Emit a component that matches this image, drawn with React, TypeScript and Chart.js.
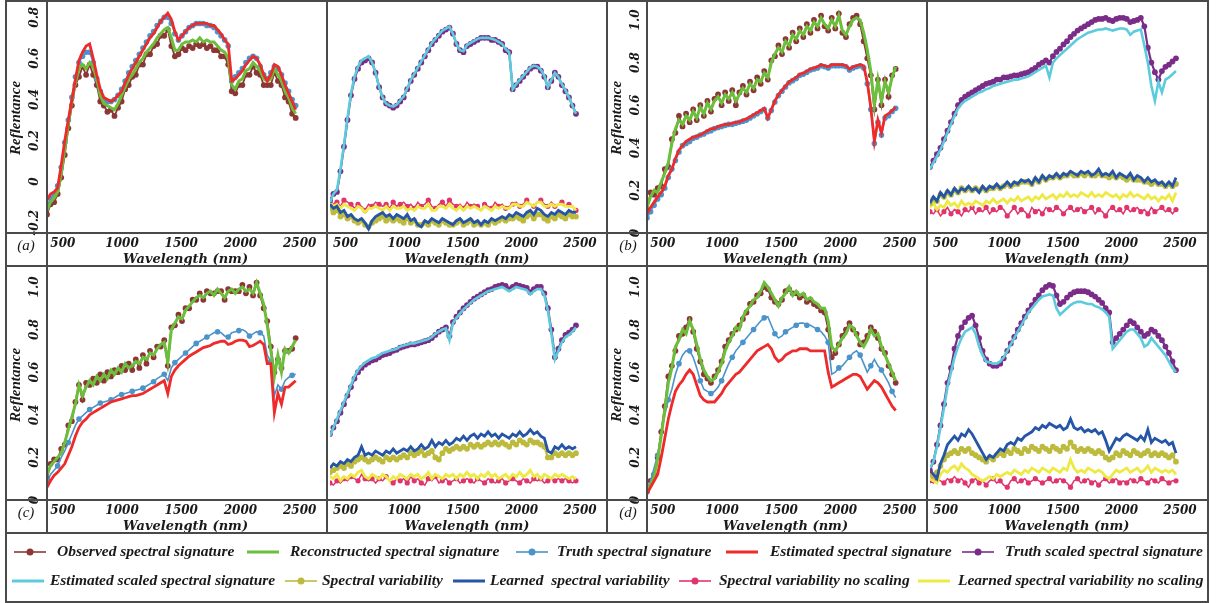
import React, { useEffect, useRef } from 'react';
import { Chart, registerables } from 'chart.js';

Chart.register(...registerables);

// ---------------- DATA ----------------
const WL = [400, 430, 460, 490, 520, 550, 580, 610, 640, 670, 700, 730, 760, 790, 820, 850, 880, 910, 940, 970,
  1000, 1030, 1060, 1090, 1120, 1150, 1180, 1210, 1240, 1270, 1300, 1330, 1360, 1390, 1420, 1450, 1480, 1510, 1540, 1570,
  1600, 1630, 1660, 1690, 1720, 1750, 1780, 1810, 1840, 1870, 1900, 1930, 1960, 1990, 2020, 2050, 2080, 2110, 2140, 2170,
  2200, 2230, 2260, 2290, 2320, 2350, 2380, 2410, 2440, 2470, 2500];

const X_TICKS = [500, 1000, 1500, 2000, 2500];
const Y_TICKS_A = [-0.2, 0, 0.2, 0.4, 0.6, 0.8];
const Y_LABELS_A = ['-0.2', '0', '0.2', '0.4', '0.6', '0.8'];
const Y_TICKS = [0, 0.2, 0.4, 0.6, 0.8, 1.0];
const Y_LABELS = ['0', '0.2', '0.4', '0.6', '0.8', '1.0'];

// ----- panel (a)
const A_OBSERVED = [-0.16, -0.11, -0.10, -0.06, 0.02, 0.13, 0.26, 0.37, 0.47, 0.51,
  0.56, 0.52, 0.57, 0.52, 0.47, 0.39, 0.37, 0.34, 0.35, 0.32,
  0.36, 0.39, 0.45, 0.47, 0.51, 0.52, 0.57, 0.57, 0.62, 0.62,
  0.66, 0.67, 0.71, 0.71, 0.74, 0.66, 0.61, 0.62, 0.65, 0.64,
  0.66, 0.65, 0.67, 0.66, 0.67, 0.65, 0.66, 0.64, 0.64, 0.61,
  0.61, 0.57, 0.44, 0.43, 0.47, 0.47, 0.52, 0.52, 0.56, 0.53,
  0.52, 0.47, 0.47, 0.47, 0.53, 0.49, 0.47, 0.41, 0.39, 0.33,
  0.31];
const A_RECONSTRUCTED = [-0.14, -0.10, -0.08, -0.05, 0.04, 0.16, 0.28, 0.40, 0.48, 0.55,
  0.57, 0.55, 0.58, 0.56, 0.50, 0.42, 0.38, 0.37, 0.36, 0.35,
  0.38, 0.42, 0.46, 0.50, 0.52, 0.55, 0.58, 0.60, 0.63, 0.65,
  0.67, 0.70, 0.72, 0.74, 0.75, 0.70, 0.64, 0.64, 0.67, 0.68,
  0.68, 0.69, 0.68, 0.70, 0.68, 0.69, 0.68, 0.68, 0.66, 0.64,
  0.63, 0.60, 0.47, 0.45, 0.49, 0.50, 0.54, 0.55, 0.58, 0.56,
  0.54, 0.50, 0.49, 0.50, 0.55, 0.52, 0.49, 0.44, 0.41, 0.36,
  0.33];
const A_TRUTH = [-0.12, -0.08, -0.06, -0.02, 0.07, 0.19, 0.30, 0.41, 0.51, 0.58,
  0.61, 0.63, 0.63, 0.58, 0.50, 0.44, 0.40, 0.39, 0.39, 0.40,
  0.42, 0.45, 0.49, 0.53, 0.56, 0.59, 0.62, 0.65, 0.68, 0.71,
  0.73, 0.76, 0.78, 0.80, 0.80, 0.77, 0.72, 0.69, 0.71, 0.73,
  0.75, 0.76, 0.77, 0.77, 0.77, 0.76, 0.76, 0.75, 0.73, 0.71,
  0.69, 0.66, 0.49, 0.51, 0.53, 0.55, 0.58, 0.60, 0.61, 0.60,
  0.56, 0.52, 0.50, 0.53, 0.56, 0.55, 0.52, 0.48, 0.44, 0.40,
  0.37];
const A_ESTIMATED = [-0.09, -0.06, -0.05, -0.03, 0.08, 0.20, 0.30, 0.40, 0.50, 0.59,
  0.63, 0.66, 0.67, 0.60, 0.52, 0.45, 0.41, 0.40, 0.39, 0.40,
  0.42, 0.44, 0.48, 0.52, 0.55, 0.58, 0.61, 0.64, 0.67, 0.70,
  0.72, 0.75, 0.78, 0.80, 0.82, 0.79, 0.73, 0.69, 0.71, 0.73,
  0.75, 0.76, 0.77, 0.77, 0.77, 0.77, 0.76, 0.76, 0.74, 0.72,
  0.69, 0.67, 0.49, 0.50, 0.52, 0.54, 0.57, 0.59, 0.61, 0.60,
  0.57, 0.52, 0.49, 0.52, 0.57, 0.56, 0.52, 0.47, 0.43, 0.39,
  0.35];
const A_TRUTH_SCALED = [-0.09, -0.06, -0.05, 0.05, 0.17, 0.30, 0.42, 0.50, 0.55, 0.58,
  0.59, 0.60, 0.58, 0.53, 0.46, 0.41, 0.38, 0.37, 0.36, 0.37,
  0.39, 0.41, 0.45, 0.49, 0.52, 0.55, 0.58, 0.61, 0.64, 0.67,
  0.69, 0.71, 0.73, 0.74, 0.75, 0.72, 0.67, 0.64, 0.63, 0.66,
  0.67, 0.68, 0.69, 0.70, 0.70, 0.70, 0.69, 0.69, 0.68, 0.67,
  0.64, 0.63, 0.45, 0.47, 0.49, 0.51, 0.53, 0.55, 0.56, 0.56,
  0.54, 0.51, 0.46, 0.49, 0.53, 0.51, 0.47, 0.44, 0.41, 0.37,
  0.33];
const A_EST_SCALED = [-0.10, -0.06, -0.04, 0.06, 0.18, 0.31, 0.43, 0.51, 0.56, 0.59,
  0.60, 0.61, 0.58, 0.53, 0.46, 0.41, 0.38, 0.37, 0.365, 0.375,
  0.395, 0.415, 0.455, 0.495, 0.525, 0.555, 0.585, 0.615, 0.645, 0.675,
  0.695, 0.715, 0.735, 0.745, 0.755, 0.72, 0.67, 0.64, 0.635, 0.665,
  0.675, 0.685, 0.695, 0.70, 0.70, 0.70, 0.695, 0.69, 0.68, 0.67,
  0.645, 0.63, 0.45, 0.475, 0.495, 0.515, 0.535, 0.555, 0.565, 0.56,
  0.545, 0.515, 0.46, 0.495, 0.53, 0.51, 0.475, 0.445, 0.41, 0.37,
  0.33];
const A_VAR = [-0.13, -0.15, -0.14, -0.17, -0.16, -0.18, -0.17, -0.19, -0.20, -0.19,
  -0.21, -0.22, -0.20, -0.19, -0.18, -0.17, -0.19, -0.18, -0.19, -0.18,
  -0.19, -0.20, -0.18, -0.20, -0.19, -0.21, -0.21, -0.20, -0.21, -0.19,
  -0.20, -0.21, -0.19, -0.20, -0.21, -0.21, -0.20, -0.19, -0.21, -0.20,
  -0.19, -0.21, -0.20, -0.21, -0.20, -0.21, -0.19, -0.20, -0.19, -0.18,
  -0.19, -0.18, -0.18, -0.17, -0.18, -0.19, -0.17, -0.16, -0.18, -0.16,
  -0.16, -0.18, -0.19, -0.17, -0.18, -0.16, -0.17, -0.18, -0.16, -0.17,
  -0.17];
const A_LEARNED_VAR = [-0.11, -0.13, -0.12, -0.15, -0.14, -0.17, -0.16, -0.18, -0.19, -0.18,
  -0.20, -0.23, -0.19, -0.17, -0.16, -0.15, -0.17, -0.16, -0.18, -0.16,
  -0.17, -0.18, -0.16, -0.19, -0.18, -0.21, -0.22, -0.19, -0.20, -0.18,
  -0.19, -0.20, -0.18, -0.19, -0.20, -0.21, -0.19, -0.18, -0.20, -0.19,
  -0.18, -0.20, -0.19, -0.21, -0.19, -0.20, -0.18, -0.19, -0.18, -0.17,
  -0.18, -0.16, -0.17, -0.15, -0.16, -0.17, -0.15, -0.14, -0.16, -0.13,
  -0.14, -0.16, -0.17, -0.15, -0.16, -0.14, -0.15, -0.16, -0.14, -0.15,
  -0.15];
const A_VAR_NOSCALE = [-0.09, -0.11, -0.10, -0.12, -0.09, -0.10, -0.11, -0.13, -0.11, -0.12,
  -0.14, -0.11, -0.12, -0.10, -0.11, -0.12, -0.11, -0.13, -0.10, -0.12,
  -0.11, -0.10, -0.12, -0.11, -0.13, -0.10, -0.12, -0.11, -0.09, -0.12,
  -0.13, -0.11, -0.10, -0.12, -0.09, -0.11, -0.12, -0.11, -0.13, -0.10,
  -0.12, -0.11, -0.12, -0.14, -0.11, -0.12, -0.13, -0.10, -0.12, -0.11,
  -0.13, -0.12, -0.11, -0.10, -0.12, -0.11, -0.09, -0.11, -0.12, -0.10,
  -0.09, -0.11, -0.12, -0.10, -0.12, -0.11, -0.10, -0.12, -0.11, -0.12,
  -0.14];
const A_LEARNED_NOSCALE = [-0.10, -0.12, -0.11, -0.13, -0.11, -0.12, -0.13, -0.14, -0.12, -0.13,
  -0.15, -0.13, -0.13, -0.12, -0.13, -0.14, -0.12, -0.14, -0.12, -0.13,
  -0.13, -0.12, -0.14, -0.13, -0.14, -0.12, -0.13, -0.13, -0.11, -0.14,
  -0.14, -0.12, -0.12, -0.13, -0.11, -0.13, -0.14, -0.12, -0.14, -0.12,
  -0.13, -0.12, -0.13, -0.14, -0.12, -0.13, -0.14, -0.12, -0.13, -0.12,
  -0.13, -0.13, -0.11, -0.11, -0.12, -0.12, -0.10, -0.11, -0.12, -0.10,
  -0.10, -0.12, -0.12, -0.11, -0.12, -0.11, -0.11, -0.12, -0.12, -0.12,
  -0.14];

// ----- panel (b)
const B_OBSERVED = [0.11, 0.19, 0.18, 0.21, 0.22, 0.30, 0.31, 0.44, 0.47, 0.55,
  0.50, 0.56, 0.52, 0.58, 0.53, 0.60, 0.55, 0.62, 0.57, 0.63,
  0.65, 0.60, 0.66, 0.62, 0.67, 0.60, 0.66, 0.69, 0.65, 0.71,
  0.67, 0.73, 0.70, 0.76, 0.72, 0.81, 0.83, 0.88, 0.84, 0.91,
  0.87, 0.94, 0.90, 0.96, 0.92, 0.98, 0.94, 1.00, 0.96, 1.02,
  0.97, 0.95, 1.01, 0.96, 1.03, 0.94, 0.92, 0.98, 1.01, 1.02,
  0.98, 0.90, 0.82, 0.74, 0.58, 0.72, 0.60, 0.72, 0.64, 0.74,
  0.77];
const B_RECONSTRUCTED = [0.12, 0.17, 0.20, 0.19, 0.24, 0.28, 0.33, 0.42, 0.49, 0.53,
  0.51, 0.55, 0.53, 0.57, 0.54, 0.59, 0.56, 0.61, 0.58, 0.62,
  0.64, 0.61, 0.65, 0.63, 0.66, 0.62, 0.65, 0.68, 0.66, 0.70,
  0.68, 0.72, 0.71, 0.75, 0.73, 0.80, 0.84, 0.87, 0.85, 0.90,
  0.88, 0.93, 0.91, 0.95, 0.93, 0.97, 0.95, 0.99, 0.97, 1.01,
  0.98, 0.96, 1.00, 0.97, 1.02, 0.95, 0.93, 0.97, 1.00, 1.01,
  1.00, 0.94, 0.86, 0.76, 0.60, 0.72, 0.62, 0.71, 0.66, 0.73,
  0.78];
const B_TRUTH = [0.07, 0.10, 0.13, 0.16, 0.18, 0.21, 0.26, 0.30, 0.34, 0.38,
  0.41, 0.42, 0.43, 0.445, 0.45, 0.46, 0.465, 0.475, 0.48, 0.49,
  0.495, 0.50, 0.505, 0.51, 0.51, 0.515, 0.52, 0.525, 0.53, 0.54,
  0.55, 0.56, 0.57, 0.58, 0.54, 0.575, 0.615, 0.645, 0.665, 0.685,
  0.705, 0.715, 0.725, 0.74, 0.745, 0.755, 0.765, 0.77, 0.775, 0.785,
  0.78, 0.775, 0.785, 0.785, 0.785, 0.785, 0.78, 0.765, 0.775, 0.78,
  0.785, 0.775, 0.70, 0.58, 0.42, 0.52, 0.46, 0.54, 0.55, 0.57,
  0.585];
const B_ESTIMATED = [0.09, 0.12, 0.145, 0.17, 0.19, 0.22, 0.27, 0.30, 0.35, 0.39,
  0.41, 0.43, 0.44, 0.45, 0.455, 0.46, 0.47, 0.48, 0.49, 0.49,
  0.50, 0.505, 0.51, 0.51, 0.515, 0.52, 0.52, 0.53, 0.535, 0.545,
  0.555, 0.565, 0.575, 0.585, 0.54, 0.58, 0.62, 0.65, 0.67, 0.69,
  0.71, 0.72, 0.73, 0.745, 0.75, 0.76, 0.77, 0.775, 0.78, 0.79,
  0.785, 0.78, 0.79, 0.79, 0.79, 0.79, 0.785, 0.77, 0.78, 0.785,
  0.79, 0.785, 0.71, 0.59, 0.43, 0.53, 0.47, 0.55, 0.56, 0.575,
  0.59];
const B_TRUTH_SCALED = [0.31, 0.34, 0.37, 0.40, 0.44, 0.48, 0.52, 0.56, 0.60, 0.625,
  0.64, 0.65, 0.66, 0.67, 0.68, 0.69, 0.70, 0.705, 0.71, 0.72,
  0.72, 0.73, 0.73, 0.735, 0.74, 0.74, 0.745, 0.75, 0.755, 0.765,
  0.775, 0.79, 0.80, 0.81, 0.80, 0.83, 0.85, 0.865, 0.885, 0.90,
  0.92, 0.935, 0.95, 0.96, 0.97, 0.98, 0.99, 1.00, 1.005, 1.005,
  1.01, 1.00, 0.995, 1.005, 1.01, 1.01, 1.005, 0.99, 0.995, 1.00,
  1.01, 0.97, 0.87, 0.80, 0.755, 0.72, 0.76, 0.78, 0.79, 0.805,
  0.82];
const B_EST_SCALED = [0.30, 0.33, 0.36, 0.39, 0.43, 0.47, 0.51, 0.55, 0.585, 0.605,
  0.62, 0.63, 0.64, 0.65, 0.66, 0.665, 0.675, 0.68, 0.69, 0.695,
  0.70, 0.705, 0.71, 0.715, 0.72, 0.72, 0.725, 0.73, 0.735, 0.745,
  0.755, 0.765, 0.775, 0.785, 0.73, 0.80, 0.82, 0.835, 0.85, 0.865,
  0.88, 0.895, 0.91, 0.92, 0.93, 0.94, 0.945, 0.95, 0.955, 0.955,
  0.96, 0.955, 0.95, 0.955, 0.96, 0.96, 0.955, 0.93, 0.945, 0.95,
  0.955, 0.88, 0.80, 0.69, 0.62, 0.71, 0.66, 0.72, 0.73, 0.745,
  0.76];
const B_VAR = [0.14, 0.16, 0.15, 0.18, 0.17, 0.19, 0.18, 0.20, 0.19, 0.21,
  0.20, 0.21, 0.20, 0.21, 0.20, 0.21, 0.20, 0.21, 0.21, 0.22,
  0.21, 0.22, 0.23, 0.22, 0.23, 0.23, 0.24, 0.24, 0.24, 0.23,
  0.25, 0.24, 0.26, 0.25, 0.26, 0.26, 0.27, 0.26, 0.27, 0.27,
  0.28, 0.27, 0.27, 0.28, 0.27, 0.28, 0.27, 0.27, 0.28, 0.27,
  0.27, 0.26, 0.27, 0.26, 0.27, 0.26, 0.25, 0.26, 0.25, 0.25,
  0.25, 0.24, 0.24, 0.23, 0.24, 0.23, 0.23, 0.22, 0.23, 0.22,
  0.23];
const B_LEARNED_VAR = [0.14, 0.17, 0.15, 0.19, 0.17, 0.20, 0.18, 0.21, 0.19, 0.21,
  0.20, 0.22, 0.20, 0.21, 0.19, 0.22, 0.20, 0.22, 0.21, 0.23,
  0.21, 0.22, 0.24, 0.22, 0.24, 0.23, 0.25, 0.24, 0.25, 0.23,
  0.26, 0.24, 0.27, 0.25, 0.27, 0.26, 0.28, 0.26, 0.28, 0.27,
  0.29, 0.28, 0.27, 0.29, 0.28, 0.29, 0.27, 0.28, 0.30, 0.27,
  0.28, 0.27, 0.29, 0.26, 0.28, 0.27, 0.26, 0.28, 0.25, 0.27,
  0.26, 0.24, 0.26, 0.24, 0.25, 0.23, 0.24, 0.22, 0.24, 0.22,
  0.26];
const B_VAR_NOSCALE = [0.10, 0.09, 0.11, 0.08, 0.10, 0.12, 0.09, 0.11, 0.10, 0.08,
  0.11, 0.10, 0.12, 0.09, 0.11, 0.10, 0.12, 0.09, 0.11, 0.10,
  0.12, 0.11, 0.08, 0.10, 0.12, 0.09, 0.11, 0.10, 0.08, 0.12,
  0.10, 0.11, 0.09, 0.12, 0.11, 0.10, 0.12, 0.11, 0.09, 0.11,
  0.12, 0.10, 0.11, 0.12, 0.10, 0.11, 0.12, 0.09, 0.11, 0.10,
  0.08, 0.11, 0.12, 0.10, 0.11, 0.09, 0.12, 0.10, 0.11, 0.12,
  0.10, 0.11, 0.09, 0.12, 0.10, 0.11, 0.12, 0.10, 0.11, 0.09,
  0.11];
const B_LEARNED_NOSCALE = [0.12, 0.14, 0.11, 0.13, 0.12, 0.15, 0.13, 0.14, 0.12, 0.15,
  0.13, 0.14, 0.13, 0.15, 0.14, 0.13, 0.15, 0.14, 0.16, 0.14,
  0.15, 0.16, 0.14, 0.16, 0.15, 0.17, 0.15, 0.16, 0.17, 0.15,
  0.17, 0.16, 0.18, 0.16, 0.17, 0.18, 0.16, 0.18, 0.17, 0.19,
  0.17, 0.18, 0.17, 0.19, 0.18, 0.17, 0.19, 0.17, 0.18, 0.17,
  0.19, 0.18, 0.17, 0.18, 0.16, 0.18, 0.17, 0.19, 0.17, 0.18,
  0.17, 0.16, 0.18, 0.16, 0.17, 0.15, 0.17, 0.16, 0.18, 0.15,
  0.19];

// ----- panel (c)
const C_OBSERVED = [0.10, 0.17, 0.19, 0.19, 0.24, 0.26, 0.35, 0.37, 0.46, 0.54,
  0.47, 0.55, 0.54, 0.57, 0.55, 0.59, 0.56, 0.60, 0.58, 0.61,
  0.60, 0.63, 0.61, 0.64, 0.61, 0.66, 0.62, 0.68, 0.64, 0.70,
  0.67, 0.72, 0.72, 0.75, 0.63, 0.81, 0.82, 0.87, 0.84, 0.90,
  0.90, 0.94, 0.94, 0.97, 0.94, 0.98, 0.97, 0.97, 0.98, 0.98,
  0.94, 0.99, 0.98, 0.98, 0.98, 1.01, 0.97, 1.00, 0.96, 1.02,
  0.96, 0.90, 0.84, 0.72, 0.60, 0.66, 0.62, 0.70, 0.70, 0.71,
  0.76];
const C_RECONSTRUCTED = [0.12, 0.16, 0.18, 0.20, 0.22, 0.27, 0.33, 0.39, 0.45, 0.54,
  0.49, 0.53, 0.56, 0.54, 0.58, 0.56, 0.59, 0.57, 0.61, 0.59,
  0.62, 0.60, 0.64, 0.62, 0.63, 0.65, 0.64, 0.67, 0.66, 0.69,
  0.68, 0.71, 0.73, 0.74, 0.65, 0.80, 0.83, 0.86, 0.85, 0.89,
  0.91, 0.93, 0.95, 0.96, 0.95, 0.97, 0.98, 0.96, 0.99, 0.97,
  0.95, 0.98, 0.99, 0.97, 0.99, 1.00, 0.98, 0.99, 0.97, 1.02,
  0.97, 0.92, 0.82, 0.70, 0.58, 0.68, 0.60, 0.71, 0.69, 0.72,
  0.75];
const C_TRUTH = [0.08, 0.12, 0.14, 0.16, 0.20, 0.23, 0.27, 0.31, 0.35, 0.38,
  0.395, 0.41, 0.425, 0.435, 0.445, 0.455, 0.46, 0.465, 0.47, 0.48,
  0.49, 0.495, 0.50, 0.505, 0.51, 0.515, 0.52, 0.525, 0.535, 0.545,
  0.555, 0.57, 0.58, 0.59, 0.56, 0.62, 0.645, 0.66, 0.675, 0.69,
  0.705, 0.72, 0.735, 0.745, 0.755, 0.765, 0.775, 0.785, 0.79, 0.785,
  0.77, 0.765, 0.785, 0.79, 0.795, 0.80, 0.79, 0.77, 0.78, 0.79,
  0.785, 0.77, 0.68, 0.65, 0.49, 0.54, 0.52, 0.56, 0.575, 0.585,
  0.59];
const C_ESTIMATED = [0.06, 0.09, 0.115, 0.13, 0.15, 0.17, 0.21, 0.25, 0.30, 0.34,
  0.365, 0.38, 0.40, 0.41, 0.42, 0.43, 0.44, 0.45, 0.46, 0.465,
  0.47, 0.475, 0.48, 0.485, 0.49, 0.49, 0.495, 0.50, 0.51, 0.52,
  0.53, 0.54, 0.55, 0.56, 0.50, 0.58, 0.61, 0.63, 0.645, 0.66,
  0.675, 0.685, 0.695, 0.705, 0.715, 0.72, 0.725, 0.735, 0.74, 0.745,
  0.745, 0.73, 0.735, 0.745, 0.75, 0.75, 0.745, 0.72, 0.725, 0.735,
  0.745, 0.73, 0.64, 0.64, 0.41, 0.50, 0.45, 0.53, 0.53, 0.545,
  0.56];
const C_TRUTH_SCALED = [0.31, 0.34, 0.37, 0.41, 0.45, 0.49, 0.53, 0.57, 0.60, 0.62,
  0.635, 0.645, 0.655, 0.66, 0.67, 0.68, 0.685, 0.69, 0.70, 0.705,
  0.715, 0.72, 0.725, 0.73, 0.73, 0.735, 0.74, 0.745, 0.75, 0.76,
  0.775, 0.79, 0.80, 0.81, 0.77, 0.835, 0.86, 0.88, 0.90, 0.915,
  0.93, 0.945, 0.955, 0.965, 0.975, 0.985, 0.99, 1.00, 1.005, 1.01,
  1.005, 0.99, 1.00, 1.01, 1.005, 1.00, 0.995, 0.975, 0.99, 1.00,
  1.00, 0.97, 0.90, 0.80, 0.67, 0.71, 0.75, 0.775, 0.785, 0.80,
  0.82];
const C_EST_SCALED = [0.30, 0.34, 0.38, 0.42, 0.46, 0.50, 0.54, 0.58, 0.61, 0.63,
  0.645, 0.655, 0.665, 0.67, 0.68, 0.69, 0.695, 0.70, 0.705, 0.71,
  0.72, 0.725, 0.73, 0.735, 0.735, 0.74, 0.745, 0.75, 0.755, 0.765,
  0.78, 0.79, 0.80, 0.805, 0.75, 0.83, 0.855, 0.875, 0.895, 0.91,
  0.925, 0.94, 0.95, 0.96, 0.97, 0.98, 0.985, 0.99, 0.995, 1.00,
  0.99, 0.98, 0.99, 1.00, 0.995, 0.99, 0.985, 0.965, 0.98, 0.99,
  0.99, 0.96, 0.89, 0.78, 0.66, 0.70, 0.74, 0.765, 0.775, 0.79,
  0.81];
const C_VAR = [0.13, 0.14, 0.15, 0.16, 0.15, 0.17, 0.16, 0.18, 0.19, 0.20,
  0.19, 0.18, 0.19, 0.20, 0.19, 0.18, 0.20, 0.19, 0.20, 0.19,
  0.20, 0.21, 0.20, 0.22, 0.21, 0.22, 0.23, 0.21, 0.22, 0.23,
  0.20, 0.19, 0.22, 0.24, 0.23, 0.24, 0.25, 0.24, 0.25, 0.24,
  0.26, 0.25, 0.26, 0.25, 0.26, 0.27, 0.26, 0.27, 0.26, 0.27,
  0.26, 0.25, 0.27, 0.26, 0.28, 0.27, 0.26, 0.28, 0.27, 0.27,
  0.26, 0.25, 0.20, 0.20, 0.22, 0.21, 0.22, 0.21, 0.22, 0.21,
  0.22];
const C_LEARNED_VAR = [0.15, 0.17, 0.16, 0.18, 0.17, 0.19, 0.18, 0.20, 0.21, 0.25,
  0.21, 0.22, 0.21, 0.23, 0.22, 0.21, 0.23, 0.22, 0.24, 0.22,
  0.23, 0.24, 0.23, 0.25, 0.23, 0.24, 0.26, 0.24, 0.25, 0.28,
  0.25, 0.27, 0.26, 0.28, 0.26, 0.27, 0.29, 0.28, 0.30, 0.28,
  0.30, 0.31, 0.29, 0.31, 0.30, 0.32, 0.30, 0.31, 0.29, 0.31,
  0.30, 0.29, 0.31, 0.30, 0.32, 0.30, 0.31, 0.33, 0.31, 0.32,
  0.30, 0.29, 0.23, 0.22, 0.25, 0.24, 0.26, 0.24, 0.25, 0.24,
  0.25];
const C_VAR_NOSCALE = [0.08, 0.07, 0.09, 0.08, 0.10, 0.09, 0.11, 0.10, 0.09, 0.12,
  0.10, 0.09, 0.10, 0.08, 0.10, 0.09, 0.11, 0.09, 0.08, 0.10,
  0.09, 0.10, 0.08, 0.11, 0.09, 0.10, 0.08, 0.07, 0.10, 0.09,
  0.11, 0.08, 0.09, 0.10, 0.08, 0.09, 0.10, 0.08, 0.09, 0.10,
  0.09, 0.08, 0.10, 0.09, 0.08, 0.10, 0.09, 0.08, 0.09, 0.10,
  0.08, 0.09, 0.10, 0.09, 0.08, 0.10, 0.09, 0.08, 0.10, 0.09,
  0.10, 0.08, 0.09, 0.10, 0.09, 0.10, 0.09, 0.10, 0.09, 0.08,
  0.09];
const C_LEARNED_NOSCALE = [0.11, 0.10, 0.12, 0.09, 0.11, 0.10, 0.12, 0.11, 0.13, 0.14,
  0.11, 0.10, 0.12, 0.11, 0.10, 0.12, 0.11, 0.09, 0.11, 0.10,
  0.12, 0.11, 0.10, 0.12, 0.11, 0.12, 0.10, 0.11, 0.13, 0.10,
  0.12, 0.11, 0.10, 0.12, 0.11, 0.12, 0.10, 0.12, 0.11, 0.13,
  0.11, 0.12, 0.10, 0.12, 0.11, 0.13, 0.11, 0.12, 0.10, 0.11,
  0.12, 0.10, 0.12, 0.11, 0.13, 0.11, 0.12, 0.14, 0.11, 0.12,
  0.10, 0.12, 0.11, 0.10, 0.12, 0.11, 0.12, 0.11, 0.10, 0.11,
  0.10];

// ----- panel (d)
const D_OBSERVED = [0.04, 0.09, 0.12, 0.20, 0.32, 0.44, 0.58, 0.63, 0.70, 0.77,
  0.78, 0.81, 0.85, 0.79, 0.71, 0.65, 0.59, 0.57, 0.55, 0.58,
  0.61, 0.65, 0.72, 0.75, 0.78, 0.80, 0.82, 0.85, 0.88, 0.92,
  0.93, 0.96, 0.97, 1.00, 0.99, 0.95, 0.93, 0.92, 0.94, 0.98,
  0.99, 0.97, 0.97, 0.95, 0.96, 0.93, 0.94, 0.92, 0.91, 0.89,
  0.88, 0.80, 0.67, 0.69, 0.73, 0.77, 0.80, 0.83, 0.80, 0.78,
  0.73, 0.74, 0.77, 0.81, 0.79, 0.76, 0.71, 0.69, 0.63, 0.59,
  0.55];
const D_RECONSTRUCTED = [0.05, 0.07, 0.11, 0.19, 0.30, 0.42, 0.55, 0.62, 0.72, 0.75,
  0.80, 0.78, 0.84, 0.80, 0.73, 0.66, 0.61, 0.58, 0.56, 0.57,
  0.60, 0.64, 0.70, 0.74, 0.77, 0.81, 0.80, 0.86, 0.89, 0.91,
  0.94, 0.95, 0.98, 1.02, 1.00, 0.97, 0.94, 0.91, 0.95, 0.97,
  1.00, 0.96, 0.98, 0.96, 0.97, 0.94, 0.95, 0.93, 0.92, 0.90,
  0.90, 0.84, 0.72, 0.70, 0.73, 0.76, 0.78, 0.82, 0.81, 0.77,
  0.74, 0.72, 0.75, 0.80, 0.77, 0.78, 0.72, 0.68, 0.64, 0.60,
  0.56];
const D_TRUTH = [0.04, 0.09, 0.15, 0.21, 0.31, 0.40, 0.47, 0.52, 0.59, 0.64,
  0.68, 0.70, 0.70, 0.67, 0.62, 0.56, 0.52, 0.51, 0.50, 0.51,
  0.53, 0.56, 0.60, 0.64, 0.67, 0.70, 0.72, 0.74, 0.76, 0.78,
  0.80, 0.82, 0.84, 0.855, 0.86, 0.82, 0.78, 0.76, 0.77, 0.79,
  0.80, 0.81, 0.82, 0.83, 0.83, 0.82, 0.82, 0.81, 0.80, 0.79,
  0.77, 0.74, 0.59, 0.60, 0.62, 0.63, 0.65, 0.67, 0.69, 0.70,
  0.68, 0.64, 0.60, 0.63, 0.66, 0.63, 0.61, 0.58, 0.55, 0.51,
  0.48];
const D_ESTIMATED = [0.03, 0.06, 0.09, 0.12, 0.20, 0.29, 0.38, 0.45, 0.51, 0.54,
  0.56, 0.59, 0.61, 0.59, 0.54, 0.49, 0.47, 0.46, 0.46, 0.46,
  0.48, 0.50, 0.53, 0.55, 0.57, 0.59, 0.60, 0.62, 0.64, 0.66,
  0.68, 0.70, 0.71, 0.72, 0.73, 0.71, 0.67, 0.65, 0.66, 0.68,
  0.69, 0.70, 0.70, 0.71, 0.71, 0.71, 0.70, 0.70, 0.70, 0.70,
  0.70, 0.60, 0.53, 0.54, 0.55, 0.56, 0.57, 0.58, 0.59, 0.59,
  0.58, 0.55, 0.52, 0.54, 0.56, 0.55, 0.53, 0.50, 0.47, 0.44,
  0.42];
const D_TRUTH_SCALED = [0.14, 0.18, 0.26, 0.35, 0.45, 0.55, 0.62, 0.71, 0.77, 0.81,
  0.835, 0.855, 0.865, 0.82, 0.76, 0.70, 0.66, 0.64, 0.63, 0.63,
  0.64, 0.665, 0.70, 0.735, 0.765, 0.80, 0.83, 0.86, 0.89, 0.915,
  0.94, 0.96, 0.985, 1.00, 1.01, 1.005, 0.96, 0.92, 0.93, 0.95,
  0.965, 0.975, 0.98, 0.98, 0.98, 0.975, 0.965, 0.955, 0.94, 0.925,
  0.90, 0.88, 0.74, 0.76, 0.78, 0.80, 0.82, 0.84, 0.83, 0.81,
  0.79, 0.77, 0.78, 0.80, 0.79, 0.77, 0.75, 0.72, 0.69, 0.65,
  0.61];
const D_EST_SCALED = [0.15, 0.18, 0.25, 0.34, 0.43, 0.53, 0.60, 0.67, 0.72, 0.76,
  0.79, 0.80, 0.81, 0.78, 0.72, 0.68, 0.65, 0.645, 0.64, 0.64,
  0.65, 0.67, 0.70, 0.73, 0.76, 0.79, 0.82, 0.85, 0.88, 0.90,
  0.92, 0.94, 0.955, 0.96, 0.965, 0.96, 0.90, 0.87, 0.885, 0.90,
  0.915, 0.925, 0.93, 0.93, 0.925, 0.92, 0.92, 0.91, 0.905, 0.895,
  0.88, 0.86, 0.71, 0.73, 0.75, 0.77, 0.79, 0.80, 0.80, 0.78,
  0.76, 0.72, 0.73, 0.76, 0.74, 0.72, 0.70, 0.68, 0.65, 0.62,
  0.60];
const D_VAR = [0.12, 0.11, 0.13, 0.16, 0.19, 0.21, 0.22, 0.23, 0.22, 0.24,
  0.23, 0.24, 0.22, 0.21, 0.20, 0.19, 0.18, 0.20, 0.19, 0.21,
  0.22, 0.21, 0.23, 0.22, 0.24, 0.23, 0.22, 0.24, 0.23, 0.25,
  0.24, 0.23, 0.25, 0.24, 0.23, 0.25, 0.24, 0.23, 0.25, 0.24,
  0.27, 0.25, 0.23, 0.24, 0.23, 0.24, 0.23, 0.22, 0.23, 0.22,
  0.20, 0.19, 0.20, 0.22, 0.21, 0.23, 0.22, 0.21, 0.23, 0.22,
  0.21, 0.22, 0.23, 0.21, 0.22, 0.21, 0.22, 0.21, 0.20, 0.21,
  0.18];
const D_LEARNED_VAR = [0.14, 0.12, 0.10, 0.17, 0.21, 0.26, 0.28, 0.30, 0.28, 0.31,
  0.30, 0.33, 0.31, 0.28, 0.25, 0.22, 0.19, 0.21, 0.20, 0.22,
  0.24, 0.23, 0.26, 0.27, 0.26, 0.29, 0.28, 0.30, 0.31, 0.32,
  0.34, 0.33, 0.35, 0.34, 0.36, 0.35, 0.34, 0.35, 0.33, 0.34,
  0.38, 0.34, 0.33, 0.34, 0.32, 0.33, 0.32, 0.33, 0.31, 0.32,
  0.28, 0.23, 0.26, 0.29, 0.28, 0.30, 0.31, 0.30, 0.29, 0.28,
  0.30, 0.28, 0.33, 0.27, 0.29, 0.28, 0.27, 0.28, 0.26, 0.27,
  0.22];
const D_VAR_NOSCALE = [0.09, 0.08, 0.10, 0.09, 0.08, 0.10, 0.09, 0.11, 0.09, 0.10,
  0.08, 0.06, 0.09, 0.10, 0.08, 0.09, 0.07, 0.09, 0.10, 0.08,
  0.09, 0.07, 0.06, 0.09, 0.10, 0.08, 0.09, 0.10, 0.08, 0.09,
  0.10, 0.09, 0.08, 0.09, 0.10, 0.08, 0.09, 0.10, 0.09, 0.08,
  0.06, 0.09, 0.10, 0.08, 0.09, 0.10, 0.08, 0.09, 0.07, 0.09,
  0.10, 0.08, 0.09, 0.10, 0.08, 0.09, 0.08, 0.10, 0.09, 0.08,
  0.10, 0.09, 0.08, 0.10, 0.09, 0.08, 0.10, 0.09, 0.08, 0.09,
  0.09];
const D_LEARNED_NOSCALE = [0.10, 0.09, 0.08, 0.12, 0.14, 0.13, 0.15, 0.16, 0.14, 0.17,
  0.15, 0.14, 0.12, 0.11, 0.10, 0.09, 0.10, 0.11, 0.10, 0.12,
  0.11, 0.12, 0.13, 0.12, 0.14, 0.13, 0.12, 0.14, 0.13, 0.15,
  0.14, 0.13, 0.15, 0.14, 0.13, 0.15, 0.14, 0.13, 0.15, 0.14,
  0.19, 0.15, 0.13, 0.14, 0.13, 0.15, 0.14, 0.13, 0.14, 0.13,
  0.11, 0.10, 0.12, 0.14, 0.13, 0.14, 0.15, 0.13, 0.14, 0.15,
  0.13, 0.14, 0.16, 0.13, 0.15, 0.14, 0.13, 0.14, 0.13, 0.14,
  0.12];

// ---------------- STYLES ----------------
const INK = '#1a1a1a';
const LINE_COLOR = '#4a4a4a';
const TICK_FONT = { family: '"DejaVu Serif", serif', size: 12, style: 'italic', weight: 'bold' } as any;
const XTITLE_FONT = { family: '"DejaVu Serif", serif', size: 13, style: 'italic', weight: 'bold', lineHeight: 1 } as any;
const YTITLE_FONT = { family: '"Liberation Serif", serif', size: 15, style: 'italic', weight: 'bold', lineHeight: 1 } as any;

type Style = { label: string; color: string; width: number; radius: number; every: number; order: number; marker: boolean };
const STYLE: Record<string, Style> = {
  observed: { label: 'Observed spectral signature', color: '#8d3636', width: 1.8, radius: 2.9, every: 1, order: 4, marker: true },
  reconstructed: { label: 'Reconstructed spectral signature', color: '#6cbf3b', width: 3, radius: 0, every: 1, order: 2, marker: false },
  truth: { label: 'Truth spectral signature', color: '#4b93cb', width: 1.6, radius: 2.8, every: 1, order: 3, marker: true },
  estimated: { label: 'Estimated spectral signature', color: '#ee2a2a', width: 2.8, radius: 0, every: 1, order: 1, marker: false },
  truthScaled: { label: 'Truth scaled spectral signature', color: '#7a2c88', width: 2.2, radius: 2.9, every: 1, order: 2, marker: true },
  estScaled: { label: 'Estimated scaled spectral signature', color: '#5ccbdc', width: 2.6, radius: 0, every: 1, order: 1, marker: false },
  variability: { label: 'Spectral variability', color: '#bdbb3d', width: 2.2, radius: 2.9, every: 1, order: 4, marker: true },
  learnedVar: { label: 'Learned  spectral variability', color: '#2455a6', width: 2.8, radius: 0, every: 1, order: 3, marker: false },
  varNoScale: { label: 'Spectral variability no scaling', color: '#e0356c', width: 1.5, radius: 2.6, every: 2, order: 6, marker: true },
  learnedNoScale: { label: 'Learned spectral variability no scaling', color: '#eeea45', width: 2.8, radius: 0, every: 1, order: 5, marker: false },
};

function makeDataset(key: string, values: number[], every?: number) {
  const s = STYLE[key];
  const ev = every ?? s.every;
  return {
    label: s.label,
    data: WL.map((x, i) => ({ x, y: values[i] })),
    borderColor: s.color,
    backgroundColor: s.color,
    borderWidth: s.width,
    pointRadius: s.radius ? (c: any) => (c.dataIndex % ev === 0 ? s.radius : 0) : 0,
    pointBorderWidth: 0,
    pointBackgroundColor: s.color,
    pointHoverRadius: 0,
    order: s.order,
    tension: 0,
    fill: false,
  };
}

type PanelCfg = {
  left: number; top: number; axis: number; yMin: number; yMax: number;
  yTicks: number[]; yLabels: string[]; tickPad: number; titlePad: number;
  sets: [string, number[], number?][];
};

const PLOT_W = 280;
const PLOT_H = 233;
const BAND_H = 33;

const PANELS: PanelCfg[] = [
  { left: 5, top: 0, axis: 42, yMin: -0.25, yMax: 0.87, yTicks: Y_TICKS_A, yLabels: Y_LABELS_A, tickPad: -1, titlePad: 3.5,
    sets: [['observed', A_OBSERVED], ['reconstructed', A_RECONSTRUCTED], ['truth', A_TRUTH], ['estimated', A_ESTIMATED]] },
  { left: 327, top: 0, axis: 0, yMin: -0.25, yMax: 0.87, yTicks: Y_TICKS_A, yLabels: Y_LABELS_A, tickPad: 0, titlePad: 0,
    sets: [['truthScaled', A_TRUTH_SCALED], ['estScaled', A_EST_SCALED], ['variability', A_VAR], ['learnedVar', A_LEARNED_VAR], ['varNoScale', A_VAR_NOSCALE], ['learnedNoScale', A_LEARNED_NOSCALE]] },
  { left: 607, top: 0, axis: 40, yMin: 0, yMax: 1.08, yTicks: Y_TICKS, yLabels: Y_LABELS, tickPad: 0.5, titlePad: 3,
    sets: [['observed', B_OBSERVED], ['reconstructed', B_RECONSTRUCTED], ['truth', B_TRUTH], ['estimated', B_ESTIMATED]] },
  { left: 927, top: 0, axis: 0, yMin: 0, yMax: 1.08, yTicks: Y_TICKS, yLabels: Y_LABELS, tickPad: 0, titlePad: 0,
    sets: [['truthScaled', B_TRUTH_SCALED], ['estScaled', B_EST_SCALED], ['variability', B_VAR], ['learnedVar', B_LEARNED_VAR], ['varNoScale', B_VAR_NOSCALE], ['learnedNoScale', B_LEARNED_NOSCALE]] },
  { left: 5, top: 267, axis: 42, yMin: 0, yMax: 1.08, yTicks: Y_TICKS, yLabels: Y_LABELS, tickPad: 1.5, titlePad: 3.5,
    sets: [['observed', C_OBSERVED], ['reconstructed', C_RECONSTRUCTED], ['truth', C_TRUTH, 3], ['estimated', C_ESTIMATED]] },
  { left: 327, top: 267, axis: 0, yMin: 0, yMax: 1.08, yTicks: Y_TICKS, yLabels: Y_LABELS, tickPad: 0, titlePad: 0,
    sets: [['truthScaled', C_TRUTH_SCALED], ['estScaled', C_EST_SCALED], ['variability', C_VAR], ['learnedVar', C_LEARNED_VAR], ['varNoScale', C_VAR_NOSCALE], ['learnedNoScale', C_LEARNED_NOSCALE]] },
  { left: 607, top: 267, axis: 40, yMin: 0, yMax: 1.08, yTicks: Y_TICKS, yLabels: Y_LABELS, tickPad: 0.5, titlePad: 3,
    sets: [['observed', D_OBSERVED], ['reconstructed', D_RECONSTRUCTED], ['truth', D_TRUTH, 3], ['estimated', D_ESTIMATED]] },
  { left: 927, top: 267, axis: 0, yMin: 0, yMax: 1.08, yTicks: Y_TICKS, yLabels: Y_LABELS, tickPad: 0, titlePad: 0,
    sets: [['truthScaled', D_TRUTH_SCALED], ['estScaled', D_EST_SCALED], ['variability', D_VAR], ['learnedVar', D_LEARNED_VAR], ['varNoScale', D_VAR_NOSCALE], ['learnedNoScale', D_LEARNED_NOSCALE]] },
];

function Panel({ cfg }: { cfg: PanelCfg }) {
  const ref = useRef<HTMLCanvasElement | null>(null);
  const width = cfg.axis + PLOT_W;
  const height = PLOT_H + BAND_H;
  useEffect(() => {
    if (!ref.current) return;
    const hasY = cfg.axis > 0;
    const chart = new Chart(ref.current, {
      type: 'line',
      data: { datasets: cfg.sets.map(([k, v, ev]) => makeDataset(k, v, ev)) as any },
      options: {
        animation: false,
        responsive: false,
        maintainAspectRatio: false,
        events: [],
        layout: { padding: 0 },
        plugins: { legend: { display: false }, tooltip: { enabled: false } },
        scales: {
          x: {
            type: 'linear',
            min: 400,
            max: 2740,
            grid: { display: false, drawTicks: false },
            border: { display: false },
            afterBuildTicks: (s: any) => { s.ticks = X_TICKS.map((v) => ({ value: v })); },
            afterFit: (s: any) => { s.height = BAND_H; s.paddingLeft = 0; s.paddingRight = 0; },
            ticks: {
              autoSkip: false, maxRotation: 0, minRotation: 0, padding: 4, labelOffset: 4,
              font: TICK_FONT, color: INK, callback: (v: any) => String(v),
            },
            title: { display: true, text: 'Wavelength (nm)', font: XTITLE_FONT, color: INK, padding: 0 },
          },
          y: {
            type: 'linear',
            display: hasY,
            min: cfg.yMin,
            max: cfg.yMax,
            grid: { display: false, drawTicks: false },
            border: { display: false },
            afterBuildTicks: (s: any) => { s.ticks = cfg.yTicks.map((v) => ({ value: v })); },
            afterFit: (s: any) => { s.width = cfg.axis; s.paddingTop = 0; s.paddingBottom = 0; },
            ticks: {
              autoSkip: false, minRotation: 90, maxRotation: 90, crossAlign: 'center', padding: cfg.tickPad,
              font: TICK_FONT, color: INK,
              callback: (v: any) => cfg.yLabels[cfg.yTicks.indexOf(v)],
            },
            title: { display: true, text: 'Reflentance', font: YTITLE_FONT, color: INK, padding: { top: cfg.titlePad, bottom: 0 } },
          },
        },
      } as any,
    });
    return () => chart.destroy();
  }, []);
  return (
    <canvas
      ref={ref}
      width={width}
      height={height}
      style={{ position: 'absolute', left: cfg.left, top: cfg.top, width, height }}
    />
  );
}

const PANEL_LABELS = [
  { text: '(a)', left: 5, top: 233 },
  { text: '(b)', left: 607, top: 233 },
  { text: '(c)', left: 5, top: 500 },
  { text: '(d)', left: 607, top: 500 },
];

const LEGEND_ITEMS = [
  { key: 'observed', row: 0, sx: 14, tx: 57 },
  { key: 'reconstructed', row: 0, sx: 247, tx: 290 },
  { key: 'truth', row: 0, sx: 516, tx: 557 },
  { key: 'estimated', row: 0, sx: 726, tx: 770 },
  { key: 'truthScaled', row: 0, sx: 962, tx: 1005 },
  { key: 'estScaled', row: 1, sx: 12, tx: 50 },
  { key: 'variability', row: 1, sx: 285, tx: 322 },
  { key: 'learnedVar', row: 1, sx: 453, tx: 490 },
  { key: 'varNoScale', row: 1, sx: 679, tx: 719 },
  { key: 'learnedNoScale', row: 1, sx: 918, tx: 958 },
];
const LEGEND_ROW_Y = [552, 581];

export default function App() {
  const hLines = [0, 232, 265, 499, 532];
  const vLines = [5, 46, 326, 606, 646, 926, 1207];
  return (
    <div style={{ position: 'absolute', left: 0, top: 0, width: 1218, height: 603, background: '#fff', overflow: 'hidden' }}>
      {PANELS.map((p, i) => <Panel key={i} cfg={p} />)}
      {hLines.map((y, i) => (
        <div key={'h' + i} style={{ position: 'absolute', left: 5, top: y, width: 1204, height: 2, background: LINE_COLOR }} />
      ))}
      {vLines.map((x, i) => (
        <div key={'v' + i} style={{ position: 'absolute', left: x, top: 0, width: 2, height: 534, background: LINE_COLOR }} />
      ))}
      {PANEL_LABELS.map((l, i) => (
        <div key={'l' + i} style={{
          position: 'absolute', left: l.left, top: l.top + 4, width: 42, height: 26, lineHeight: '26px',
          textAlign: 'center', font: 'italic 15px "Liberation Serif", serif', color: INK,
        }}>{l.text}</div>
      ))}
      <div style={{ position: 'absolute', left: 5, top: 532, width: 1200, height: 67, border: `2px solid ${LINE_COLOR}` }} />
      {LEGEND_ITEMS.map((it, i) => {
        const s = STYLE[it.key];
        const cy = LEGEND_ROW_Y[it.row];
        return (
          <React.Fragment key={'lg' + i}>
            <svg width={32} height={10} style={{ position: 'absolute', left: it.sx, top: cy - 5 }}>
              <line x1={0} y1={5} x2={32} y2={5} stroke={s.color} strokeWidth={s.marker ? 1.6 : 3} />
              {s.marker ? <circle cx={16} cy={5} r={3.5} fill={s.color} /> : null}
            </svg>
            <span style={{
              position: 'absolute', left: it.tx, top: cy - 10, height: 20, lineHeight: '20px', whiteSpace: 'pre',
              font: 'italic bold 15.5px "Liberation Serif", serif', color: INK,
            }}>{s.label}</span>
          </React.Fragment>
        );
      })}
    </div>
  );
}
